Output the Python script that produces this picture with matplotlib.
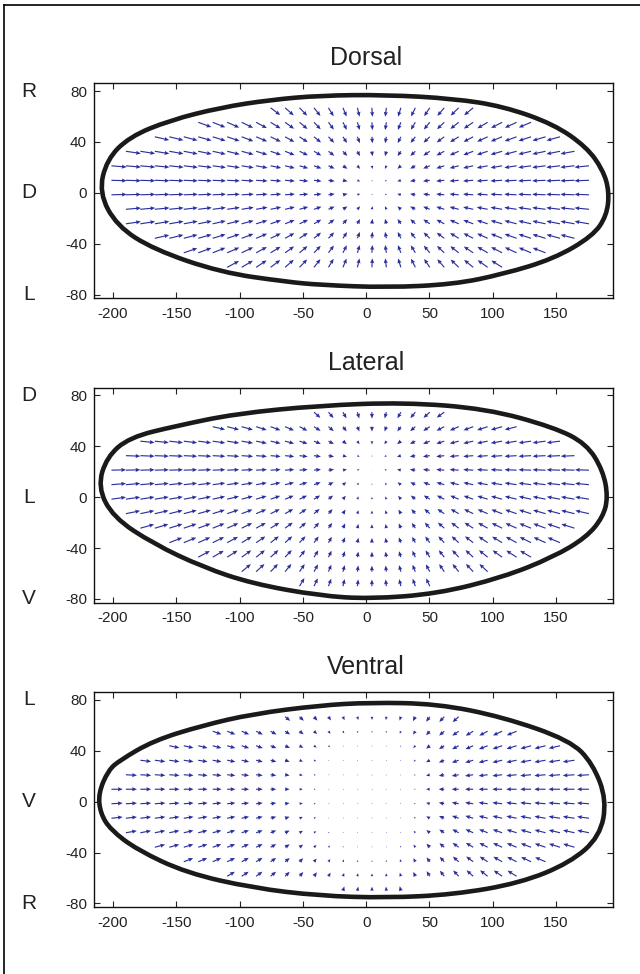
import numpy as np
import matplotlib
matplotlib.use('Agg')
import matplotlib.pyplot as plt
import matplotlib.transforms as mtransforms
from matplotlib.path import Path
from matplotlib.patches import PathPatch
from matplotlib.lines import Line2D

plt.rcParams['font.family'] = ['Liberation Sans', 'DejaVu Sans']
plt.rcParams['axes.unicode_minus'] = False

titles = ['Dorsal', 'Lateral', 'Ventral']
top_letters = ['R', 'D', 'L']
mid_letters = ['D', 'L', 'V']
bot_letters = ['L', 'V', 'R']

x_ticks = [-200, -150, -100, -50, 0, 50, 100, 150]
y_ticks = [-80, -40, 0, 40, 80]

# outlines (clockwise from the left tip)
dorsal_x = [-211, -205, -187, -155, -115, -76, -36, 16, 69, 108, 148, 174, 187, 192,
            190, 179, 148, 108, 69, 16, -36, -63, -115, -168, -197, -211]
dorsal_y = [0, 26, 44, 57, 67, 73, 76.5, 77, 74, 68, 54, 36, 18, 1,
            -18, -34, -52, -64, -72, -74.5, -72.5, -70, -62.6, -44.5, -26, 0]

lateral_x = [-212, -205, -187, -150, -103, -37, 30, 95, 148, 174, 187, 191,
             187, 174, 148, 108, 56, 3, -37, -90, -129, -168, -200, -212]
lateral_y = [8, 31.5, 47, 56, 65.6, 72, 74.5, 69.5, 55, 42, 21, 0,
             -15.7, -31.5, -47, -63, -76, -80, -77.5, -68, -55, -36.7, -15.7, 8]

ventral_x = [-211.6, -203.7, -194.5, -168, -129, -89.5, -37, 3, 56, 108, 161, 179, 190,
             184.6, 161, 121.5, 69, 16, -37, -89.5, -142, -181, -202, -210, -211.6]
ventral_y = [6.5, 24.8, 32.6, 48, 60, 69, 75.7, 78, 77, 66.6, 48.3, 30, 1.3,
             -27.4, -48, -64, -73, -75.6, -74, -67.8, -56, -37.8, -22, -9, 6.5]

outlines_x = [dorsal_x, lateral_x, ventral_x]
outlines_y = [dorsal_y, lateral_y, ventral_y]

# flow field: arrows converge on a sink, estimated per panel
sink_x = [8, 5, 8]
sink_y = [4, 26, 10]
max_len = [13, 12.5, 10]
len_scale = [80, 80, 50]
dead_zone = [0, 0, 25]
min_len = [0.4, 0.4, 0.8]
left_weight = [1, 1, 0.65]
below_weight = [1, 0.45, 0.55]
above_weight = [1, 1, 0.7]

grid_x0, grid_dx = 4.5, 11.43
grid_y0, grid_dy = -1.6, 11.4
margin = 4.5

arrow_col = '#2b2f9c'
line_col = '#1a1a1a'


def edge_distance(px, py, xs, ys):
    xs = np.asarray(xs); ys = np.asarray(ys)
    ax_, ay_ = xs[:-1], ys[:-1]
    bx, by = xs[1:], ys[1:]
    ex, ey = bx - ax_, by - ay_
    t = ((px[:, None] - ax_) * ex + (py[:, None] - ay_) * ey) / (ex**2 + ey**2)
    t = np.clip(t, 0, 1)
    cx = ax_ + t * ex
    cy = ay_ + t * ey
    return np.sqrt((px[:, None] - cx)**2 + (py[:, None] - cy)**2).min(axis=1)


def smooth_outline(xs, ys):
    # closed quadratic bezier path through the outline points
    pts = np.column_stack([xs[:-1], ys[:-1]])
    n = len(pts)
    mids = (pts + np.roll(pts, -1, axis=0)) / 2
    verts = [mids[-1]]
    codes = [Path.MOVETO]
    for k in range(n):
        verts += [pts[k], mids[k]]
        codes += [Path.CURVE3, Path.CURVE3]
    return Path(verts, codes)


fig = plt.figure(figsize=(6.4, 9.74), dpi=100)
bottoms = [0.6937, 0.3812, 0.0685]

gx = grid_x0 + grid_dx * np.arange(-19, 17)
gy = grid_y0 + grid_dy * np.arange(-6, 7)
GX, GY = np.meshgrid(gx, gy)
px, py = GX.ravel(), GY.ravel()

for i in range(3):
    ax = fig.add_axes([0.1469, bottoms[i], 0.811, 0.2207])
    xs, ys = outlines_x[i], outlines_y[i]
    path = Path(np.column_stack([xs, ys]))
    inside = path.contains_points(np.column_stack([px, py]))
    keep = inside & (edge_distance(px, py, xs, ys) >= margin)
    x, y = px[keep], py[keep]

    dx = sink_x[i] - x
    dy = sink_y[i] - y
    d = np.hypot(dx, dy)
    wx = np.where(dx > 0, left_weight[i], 1.0)
    wy = np.where(dy > 0, below_weight[i], above_weight[i])
    d_eff = np.hypot(dx * wx, dy * wy)
    mag = max_len[i] * (1 - np.exp(-np.maximum(d_eff - dead_zone[i], 0) / len_scale[i]))
    mag = np.maximum(mag, min_len[i])
    u = np.where(d > 0, dx / np.maximum(d, 1e-9), 0) * mag
    v = np.where(d > 0, dy / np.maximum(d, 1e-9), 0) * mag

    ax.quiver(x, y, u, v, angles='xy', scale_units='xy', scale=1, color=arrow_col,
              width=0.0022, headwidth=3.6, headlength=4.2, headaxislength=3.8,
              minlength=0.3, zorder=2)
    ax.add_patch(PathPatch(smooth_outline(xs, ys), facecolor='none', edgecolor=line_col,
                           lw=3.3, joinstyle='round', zorder=3))

    ax.set_xlim(-215, 195)
    ax.set_ylim(-83, 86)
    ax.set_xticks(x_ticks)
    ax.set_yticks(y_ticks)
    ax.tick_params(direction='in', top=True, right=True, length=4, width=0.8,
                   labelsize=11, colors='#222222')
    ax.tick_params(axis='x', pad=6)
    ax.tick_params(axis='y', pad=5)
    for s in ax.spines.values():
        s.set_linewidth(1.0)
        s.set_color('#111111')

    trans = mtransforms.blended_transform_factory(ax.transData, ax.transAxes)
    ax.text(0, 1.06, titles[i], transform=trans, ha='center', va='bottom',
            fontsize=18, color='#222222')
    ltrans = mtransforms.blended_transform_factory(ax.transAxes, ax.transData)
    for lab, yy in zip([top_letters[i], mid_letters[i], bot_letters[i]], [80, 0, -80]):
        ax.text(-0.125, yy, lab, transform=ltrans, ha='center', va='center',
                fontsize=15, color='#222222')

# partial frame round the figure (left and top edges)
fig.add_artist(Line2D([0.0070, 0.0070], [0, 0.9949], transform=fig.transFigure,
                      color='black', lw=1.2))
fig.add_artist(Line2D([0.0070, 1.0], [0.9949, 0.9949], transform=fig.transFigure,
                      color='black', lw=1.2))

fig.savefig('out.png', dpi=100, facecolor='white')
